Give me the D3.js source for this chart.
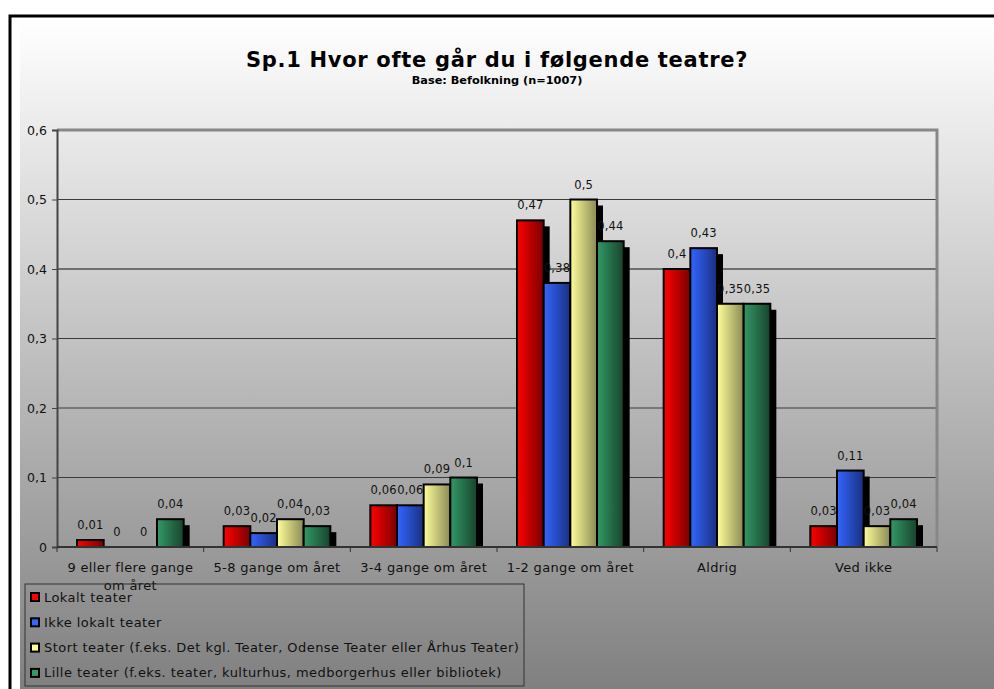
<!DOCTYPE html>
<html>
  <head>
    <meta charset="utf-8">
    <title>Sp.1 Hvor ofte går du i følgende teatre?</title>
    <script src="https://cdn.jsdelivr.net/npm/d3@7"></script>
    <style>
      body { margin: 0; background: #fff; }
      svg { display: block; font-family: "DejaVu Sans", Verdana, sans-serif; }
    </style>
  </head>

  <body>
    <svg id="chart" width="994" height="689"></svg>

    <script>
      // data
      categories = ["9 eller flere gange om året", "5-8 gange om året", "3-4 gange om året",
        "1-2 gange om året", "Aldrig", "Ved ikke"];
      seriesNames = ["Lokalt teater", "Ikke lokalt teater",
        "Stort teater (f.eks. Det kgl. Teater, Odense Teater eller Århus Teater)",
        "Lille teater (f.eks. teater, kulturhus, medborgerhus eller bibliotek)"];
      lokalt = [0.01, 0.03, 0.06, 0.47, 0.40, 0.03];
      ikkeLokalt = [0, 0.02, 0.06, 0.38, 0.43, 0.11];
      stort = [0, 0.04, 0.09, 0.50, 0.35, 0.03];
      lille = [0.04, 0.03, 0.10, 0.44, 0.35, 0.04];
      yTicks = [0, 0.1, 0.2, 0.3, 0.4, 0.5, 0.6];
      colours = [["#ff0000", "#7a0000"], ["#3366ff", "#1a2f80"], ["#ffff99", "#8a8a55"], ["#339966", "#17442d"]];

      values = [lokalt, ikkeLokalt, stort, lille];
      chartData = categories.map(function(c, i) {
        return { category: c, values: values.map(function(v, s) { return { series: s, value: v[i] }; }) };
      });

      locale = d3.formatLocale({ decimal: ",", thousands: ".", grouping: [3], currency: ["", " kr"] });
      fmt = function(v) { return locale.format("~g")(+v.toFixed(2)); };

      svg = d3.select("#chart");
      defs = svg.append("defs");

      // background gradient
      bg = defs.append("linearGradient").attr("id", "bg")
        .attr("x1", 0).attr("y1", 0).attr("x2", 0).attr("y2", 1);
      bg.append("stop").attr("offset", 0).attr("stop-color", "#ffffff");
      bg.append("stop").attr("offset", 1).attr("stop-color", "#7c7c7c");

      colours.forEach(function(c, i) {
        g = defs.append("linearGradient").attr("id", "bar" + i)
          .attr("x1", 0).attr("y1", 0).attr("x2", 1).attr("y2", 0);
        g.append("stop").attr("offset", 0).attr("stop-color", c[0]);
        g.append("stop").attr("offset", 1).attr("stop-color", c[1]);
      });

      svg.append("rect")
        .attr("x", 20).attr("y", 20)
        .attr("width", 994).attr("height", 689)
        .attr("fill", "url(#bg)");

      // outer border
      svg.append("path")
        .attr("d", "M10,700 V16 H1000")
        .attr("fill", "none")
        .attr("stroke", "#000")
        .attr("stroke-width", 3);

      // title
      svg.append("text")
        .attr("x", 497).attr("y", 67)
        .attr("text-anchor", "middle")
        .style("font-size", "21px").style("font-weight", "bold")
        .style("letter-spacing", "0.7px")
        .text("Sp.1 Hvor ofte går du i følgende teatre?");
      svg.append("text")
        .attr("x", 497).attr("y", 84)
        .attr("text-anchor", "middle")
        .style("font-size", "11.3px").style("font-weight", "bold")
        .text("Base: Befolkning (n=1007)");

      // scales
      margin = { top: 130, right: 937, bottom: 547, left: 57 };
      x0 = d3.scaleBand()
        .domain(categories)
        .range([margin.left, margin.right])
        .paddingInner(1.5 / 5.5)
        .paddingOuter(0.75 / 5.5);
      x1 = d3.scaleBand()
        .domain(d3.range(seriesNames.length))
        .range([0, x0.bandwidth()]);
      y = d3.scaleLinear()
        .domain([0, 0.6])
        .range([margin.bottom, margin.top]);

      // gridlines
      svg.append("g")
        .selectAll("line")
        .data(yTicks.slice(1, -1))
        .join("line")
          .attr("x1", margin.left).attr("x2", margin.right)
          .attr("y1", function(d) { return y(d); })
          .attr("y2", function(d) { return y(d); })
          .attr("stroke", function(d) { return d === 0.4 ? "#111" : "#3a3a3a"; })
          .attr("stroke-width", 1.2);

      // plot border (top and right)
      svg.append("path")
        .attr("d", "M" + margin.left + "," + y(0.6) + " H" + margin.right + " V" + margin.bottom)
        .attr("fill", "none")
        .attr("stroke", "#878787")
        .attr("stroke-width", 3);

      // bars
      groups = svg.append("g")
        .selectAll(".group")
        .data(chartData)
        .join("g")
          .attr("class", "group")
          .attr("transform", function(d) { return "translate(" + x0(d.category) + ",0)"; });

      groups.selectAll(".shadow")
        .data(function(d) { return d.values.filter(function(v) { return v.value > 0; }); })
        .join("rect")
          .attr("class", "shadow")
          .attr("x", function(d) { return x1(d.series) + 6; })
          .attr("y", function(d) { return y(d.value) + 6; })
          .attr("width", x1.bandwidth())
          .attr("height", function(d) { return Math.max(y(0) - y(d.value) - 6, 2); })
          .attr("fill", "#000");

      groups.selectAll(".bar")
        .data(function(d) { return d.values.filter(function(v) { return v.value > 0; }); })
        .join("rect")
          .attr("class", "bar")
          .attr("x", function(d) { return x1(d.series); })
          .attr("y", function(d) { return y(d.value); })
          .attr("width", x1.bandwidth())
          .attr("height", function(d) { return y(0) - y(d.value); })
          .attr("fill", function(d) { return "url(#bar" + d.series + ")"; })
          .attr("stroke", "#000")
          .attr("stroke-width", 2);

      groups.selectAll(".label")
        .data(function(d) { return d.values; })
        .join("text")
          .attr("class", "label")
          .attr("x", function(d) { return x1(d.series) + x1.bandwidth() / 2; })
          .attr("y", function(d) { return y(d.value) - 11; })
          .attr("text-anchor", "middle")
          .style("font-size", "11.5px")
          .style("letter-spacing", "0.2px")
          .attr("fill", "#111")
          .text(function(d) { return fmt(d.value); });

      // axes
      yAxis = d3.axisLeft(y)
        .tickValues(yTicks)
        .tickSize(5)
        .tickPadding(5)
        .tickFormat(fmt);
      yAxisGroup = svg.append("g")
        .attr("transform", "translate(" + margin.left + ",0)")
        .call(yAxis);
      yAxisGroup.select(".domain").attr("stroke", "#444").attr("stroke-width", 2);
      yAxisGroup.selectAll(".tick line").attr("stroke", "#444");
      yAxisGroup.selectAll(".tick text")
        .style("font-size", "12.5px")
        .style("font-family", "DejaVu Sans")
        .attr("fill", "#111");

      boundaries = d3.range(categories.length + 1).map(function(i) {
        return margin.left + i * x0.step();
      });
      xAxisGroup = svg.append("g");
      xAxisGroup.append("line")
        .attr("x1", margin.left).attr("x2", margin.right)
        .attr("y1", y(0)).attr("y2", y(0))
        .attr("stroke", "#333").attr("stroke-width", 2);
      xAxisGroup.selectAll(".xtick")
        .data(boundaries)
        .join("line")
          .attr("class", "xtick")
          .attr("x1", function(d) { return d; }).attr("x2", function(d) { return d; })
          .attr("y1", y(0)).attr("y2", y(0) + 5)
          .attr("stroke", "#333");

      xLabels = xAxisGroup.selectAll(".xlabel")
        .data(categories)
        .join("text")
          .attr("class", "xlabel")
          .attr("text-anchor", "middle")
          .style("font-size", "13px")
          .style("letter-spacing", "0.35px")
          .attr("fill", "#111")
          .attr("x", function(d) { return x0(d) + x0.bandwidth() / 2; })
          .attr("y", y(0) + 25);
      xLabels.each(function(d) {
        lines = d === categories[0] ? ["9 eller flere gange", "om året"] : [d];
        t = d3.select(this);
        lines.forEach(function(l, i) {
          t.append("tspan")
            .attr("x", t.attr("x"))
            .attr("dy", i === 0 ? 0 : 18)
            .text(l);
        });
      });

      // legend
      legend = svg.append("g");
      legend.append("rect")
        .attr("x", 25).attr("y", 584)
        .attr("width", 499).attr("height", 102)
        .attr("fill", "none")
        .attr("stroke", "#333")
        .attr("stroke-width", 1);
      items = legend.selectAll(".item")
        .data(seriesNames)
        .join("g")
          .attr("class", "item")
          .attr("transform", function(d, i) { return "translate(31," + (597 + i * 25.3) + ")"; });
      items.append("rect")
        .attr("x", 0).attr("y", -4)
        .attr("width", 8).attr("height", 8)
        .attr("fill", function(d, i) { return colours[i][0]; })
        .attr("stroke", "#000")
        .attr("stroke-width", 2);
      items.append("text")
        .attr("x", 13).attr("y", 4.5)
        .style("font-size", "13px")
        .style("letter-spacing", "0.45px")
        .attr("fill", "#111")
        .text(function(d) { return d; });
    </script>
  </body>
</html>
